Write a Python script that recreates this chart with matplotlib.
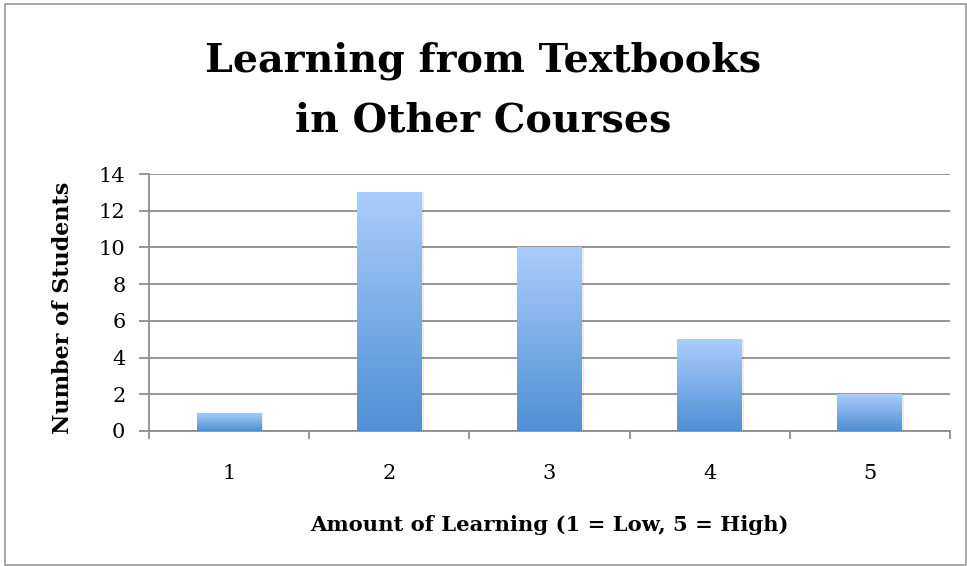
import matplotlib
matplotlib.use("Agg")
import matplotlib.pyplot as plt
import numpy as np
from matplotlib.colors import LinearSegmentedColormap
from matplotlib.patches import Rectangle

categories = ["1", "2", "3", "4", "5"]
values = [1, 13, 10, 5, 2]
title_lines = ["Learning from Textbooks", "in Other Courses"]
xlabel = "Amount of Learning (1 = Low, 5 = High)"
ylabel = "Number of Students"

plt.rcParams['font.family'] = ['DejaVu Serif']

fig = plt.figure(figsize=(9.67, 5.66), dpi=100)
ax = fig.add_axes([149/967, 1-431/566, (950-149)/967, (431-174)/566])

# figure border
fig.patches.append(Rectangle((5/967, 0.002), 1-6/967, 1-5/566, transform=fig.transFigure,
                             fill=False, edgecolor="#9a9a9a", linewidth=1.2))

cmap = LinearSegmentedColormap.from_list("g", ["#4e8fd6", "#abcdfb"])
grad = np.linspace(0, 1, 256).reshape(-1, 1)
x = np.arange(len(categories))
bw = 0.405
for xi, v in zip(x, values):
    ax.add_patch(Rectangle((xi-bw/2+0.012, 0), bw, v, facecolor="#000000", alpha=0.07,
                           edgecolor="none", zorder=2))
    rect = Rectangle((xi-bw/2, 0), bw, v, facecolor="none", edgecolor="none", zorder=3)
    ax.add_patch(rect)
    im = ax.imshow(grad, extent=(xi-bw/2, xi+bw/2, 0, v), origin="lower", cmap=cmap,
                   aspect="auto", zorder=3)
    im.set_clip_path(rect)
ax.set_xlim(-0.5, len(categories)-0.5)
ax.set_ylim(0, 14)

ax.set_yticks(np.arange(0, 15, 2))
ax.yaxis.grid(True, color="#8e8e8e", linewidth=1.3)
ax.set_axisbelow(True)
ax.set_xticks(x)
ax.set_xticklabels(categories)
ax.set_xticks(np.arange(-0.5, len(categories)), minor=True)
ax.tick_params(axis="x", which="major", length=0, labelsize=15, pad=24)
ax.tick_params(axis="x", which="minor", length=6, width=1.3, color="#8e8e8e", direction="out")
ax.tick_params(axis="y", length=7, width=1.3, color="#8e8e8e", labelsize=15, pad=10)
for s in ["top", "right"]:
    ax.spines[s].set_visible(False)
for s in ["left", "bottom"]:
    ax.spines[s].set_color("#8e8e8e")
    ax.spines[s].set_linewidth(1.3)

ax.set_xlabel(xlabel, fontsize=15.2, fontweight="bold", labelpad=23)
ax.set_ylabel(ylabel, fontsize=16, fontweight="bold", va="center")
ax.yaxis.set_label_coords(-0.107, 0.479)
for line, yb in zip(title_lines, [72, 131]):
    fig.text(0.5, 1-yb/566, line, ha="center", va="baseline", fontsize=28.5, fontweight="bold")

fig.savefig("out.png", dpi=100)
